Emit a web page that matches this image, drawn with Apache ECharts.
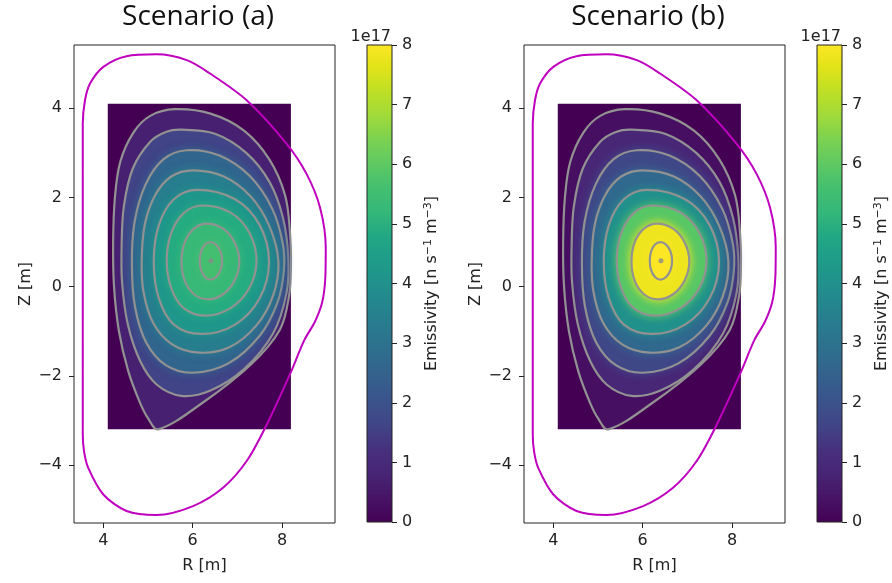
<!DOCTYPE html>
<html><head><meta charset="utf-8">
<script src="https://cdn.jsdelivr.net/npm/echarts@6/dist/echarts.min.js"></script>
<style>html,body{margin:0;padding:0;background:#fff}#c{width:892px;height:583px}</style>
</head><body><div id="c"></div>
<script>
// ---------- data ----------
const titles = ['Scenario (a)', 'Scenario (b)'];
const rTicks = [4, 6, 8];
const zTicks = [-4, -2, 0, 2, 4];
const cbTicks = [0, 1, 2, 3, 4, 5, 6, 7, 8];
const cbRange = [0, 8];
const gridR = [4.1, 8.2];
const gridZ = [-3.2, 4.1];
const magAxis = [6.41, 0.58];

const wall = [[3.54,0.0],[3.54,3.66],[3.59,4.18],[3.70,4.55],[4.0,4.93],[4.52,5.17],[5.19,5.21],[5.87,5.08],[6.39,4.78],[7.21,4.18],[8.10,3.21],[8.55,2.53],[8.85,1.78],[8.98,0.88],[8.97,0.2],[8.9,-0.35],[8.74,-0.78],[8.5,-1.2],[8.18,-1.96],[7.66,-3.09],[7.21,-3.91],[6.68,-4.51],[6.01,-4.92],[5.19,-5.12],[4.52,-5.03],[4.0,-4.66],[3.66,-4.06],[3.57,-3.7],[3.54,-3.31],[3.54,0.0]];

const psi8 = [[5.6,3.98],[6.4,3.88],[7.15,3.5],[7.72,2.85],[8.07,2.05],[8.18,1.2],[8.2,0.45],[8.16,-0.2],[7.95,-0.97],[7.3,-1.75],[6.2,-2.62],[5.23,-3.2],[5.0,-2.95],[4.82,-2.6],[4.56,-1.9],[4.35,-1.0],[4.24,0.0],[4.22,1.0],[4.26,2.0],[4.38,2.8],[4.67,3.45],[5.05,3.83]];
const psi7 = [[5.75,3.52],[6.5,3.43],[7.2,3.0],[7.72,2.35],[8.02,1.55],[8.14,0.65],[8.1,-0.15],[7.8,-1.05],[7.15,-1.85],[6.4,-2.33],[5.75,-2.45],[5.2,-2.2],[4.83,-1.68],[4.55,-0.85],[4.42,0.1],[4.41,0.9],[4.46,1.8],[4.66,2.65],[5.05,3.25],[5.4,3.47]];
const psi6 = [[5.87,3.06],[6.6,2.94],[7.28,2.48],[7.78,1.75],[8.02,0.95],[8.04,0.35],[7.9,-0.35],[7.5,-1.1],[6.8,-1.72],[6.0,-1.93],[5.4,-1.76],[4.96,-1.25],[4.71,-0.45],[4.64,0.5],[4.7,1.45],[4.95,2.3],[5.35,2.86]];
const psi5 = [[6.0,2.61],[6.7,2.47],[7.3,2.02],[7.72,1.35],[7.92,0.56],[7.8,-0.2],[7.42,-0.88],[6.82,-1.36],[6.15,-1.48],[5.55,-1.3],[5.12,-0.82],[4.9,-0.12],[4.86,0.6],[4.93,1.4],[5.16,2.05],[5.52,2.47]];
const psi4 = [[6.1,2.17],[6.95,1.96],[7.5,1.38],[7.71,0.56],[7.5,-0.26],[6.95,-0.85],[6.2,-1.06],[5.58,-0.85],[5.24,-0.25],[5.13,0.56],[5.24,1.37],[5.58,1.96]];
const psi3 = [[6.22,1.82],[6.85,1.66],[7.27,1.21],[7.43,0.585],[7.27,-0.03],[6.85,-0.48],[6.28,-0.65],[5.8,-0.48],[5.52,-0.03],[5.42,0.585],[5.52,1.2],[5.8,1.65]];
const psi2 = [[6.32,1.415],[6.68,1.30],[6.94,0.99],[7.045,0.565],[6.94,0.14],[6.68,-0.17],[6.35,-0.285],[6.03,-0.17],[5.82,0.14],[5.75,0.565],[5.82,0.99],[6.03,1.30]];
const psi1 = [[6.40,1.0],[6.525,0.944],[6.623,0.79],[6.66,0.58],[6.623,0.37],[6.525,0.216],[6.40,0.16],[6.276,0.216],[6.19,0.37],[6.16,0.58],[6.19,0.79],[6.276,0.944]];
const contours = [psi8, psi7, psi6, psi5, psi4, psi3, psi2, psi1]; // outer -> inner

// emissivity (1e17 n s^-1 m^-3) inside each contour band, outer -> inner
const emissA = [0.7, 1.6, 2.6, 3.4, 4.2, 4.9, 5.3, 5.6];
const emissB = [0.3, 0.9, 1.7, 2.7, 4.0, 5.9, 7.8, 8.0];
const outsideValue = 0;

const viridis = ['#440154','#471365','#482475','#472f7d','#414487','#3b528b','#355f8d','#2f6c8e','#2a788e','#25848e','#21918c','#1e9c89','#22a884','#35b779','#44bf70','#5ec962','#7ad151','#9fda3a','#bddf26','#dfe318','#fde725'];

// ---------- chart ----------
const chart = echarts.init(document.getElementById('c'), null, {renderer: 'canvas'});
const FONT = 'DejaVu Sans';
const INK = '#222';
const FS = 16;
const minus = v => String(v).replace('-', '\u2212');

const grids = [], xAxes = [], yAxes = [], series = [], titleList = [], graphics = [];
const panels = [{off: 0, emiss: emissA}, {off: 450, emiss: emissB}];

panels.forEach((p, i) => {
  const gMain = i * 2, gCb = i * 2 + 1;
  grids.push({left: 74 + p.off, top: 45, width: 261, height: 478, show: true, borderColor: INK, borderWidth: 1, backgroundColor: 'transparent', containLabel: false});
  grids.push({left: 367 + p.off, top: 45, width: 25, height: 477, show: false, containLabel: false});

  xAxes.push({gridIndex: gMain, type: 'value', min: 3.344, max: 9.187, position: 'bottom',
    axisLine: {show: false, onZero: false}, splitLine: {show: false},
    axisTick: {show: true, length: 5, lineStyle: {color: INK}, customValues: rTicks},
    axisLabel: {customValues: rTicks, formatter: minus, fontSize: FS, fontFamily: FONT, color: INK, margin: 10},
    name: 'R [m]', nameLocation: 'middle', nameGap: 35,
    nameTextStyle: {fontSize: FS, fontFamily: FONT, color: INK}});
  yAxes.push({gridIndex: gMain, type: 'value', min: -5.30, max: 5.42, position: 'left',
    axisLine: {show: false, onZero: false}, splitLine: {show: false},
    axisTick: {show: true, length: 5, lineStyle: {color: INK}, customValues: zTicks},
    axisLabel: {customValues: zTicks, formatter: minus, fontSize: FS, fontFamily: FONT, color: INK, margin: 12},
    name: 'Z [m]', nameLocation: 'middle', nameGap: 40, nameRotate: 90,
    nameTextStyle: {fontSize: FS, fontFamily: FONT, color: INK}});

  xAxes.push({gridIndex: gCb, type: 'value', min: 0, max: 1, show: false, axisLine: {onZero: false}});
  yAxes.push({gridIndex: gCb, type: 'value', position: 'right', min: cbRange[0], max: cbRange[1], interval: 1,
    axisLine: {show: false, onZero: false}, splitLine: {show: false},
    axisTick: {show: true, length: 5, lineStyle: {color: INK}},
    axisLabel: {fontSize: FS, fontFamily: FONT, color: INK, margin: 10},
    name: 'Emissivity [n s{sup|\u22121} m{sup|\u22123}]', nameLocation: 'middle', nameGap: 31, nameRotate: 90,
    nameTextStyle: {fontSize: FS, fontFamily: FONT, color: INK,
      rich: {sup: {fontSize: 11, fontFamily: FONT, color: INK, verticalAlign: 'top', padding: [0, 0, 6, 0]}}}});

  // emissivity grid background (value 0)
  series.push({type: 'custom', xAxisIndex: gMain, yAxisIndex: gMain, z: 1,
    data: [[gridR[0], gridZ[0], outsideValue, gridR[1], gridZ[1]]],
    renderItem: (params, api) => {
      const a = api.coord([api.value(0), api.value(1)]);
      const b = api.coord([api.value(3), api.value(4)]);
      return {type: 'rect', shape: {x: Math.min(a[0], b[0]), y: Math.min(a[1], b[1]), width: Math.abs(b[0] - a[0]), height: Math.abs(b[1] - a[1])},
        style: {fill: api.visual('color')}};
    }});
  // flux-surface bands with contour lines (soft edge toward the outer band)
  series.push({type: 'custom', xAxisIndex: gMain, yAxisIndex: gMain, z: 2,
    data: p.emiss.map((v, k) => [k, 0, v]),
    renderItem: (params, api) => {
      const k = params.dataIndex;
      const pts = contours[k].map(q => api.coord(q));
      const col = api.visual('color');
      return {type: 'polygon', shape: {points: pts, smooth: 0.35},
        style: {fill: col, stroke: '#929292', lineWidth: 2.2,
          shadowBlur: k >= 2 ? 9 : 0, shadowColor: col}};
    }});
  // first wall
  series.push({type: 'line', xAxisIndex: gMain, yAxisIndex: gMain, z: 4, data: wall, smooth: 0.3,
    showSymbol: false, symbol: 'none', lineStyle: {color: '#bf00bf', width: 2}, silent: true});
  // magnetic axis
  series.push({type: 'scatter', xAxisIndex: gMain, yAxisIndex: gMain, z: 3, data: [magAxis],
    symbolSize: 5, itemStyle: {color: '#8a8a8a'}, silent: true});
  // colorbar
  series.push({type: 'custom', xAxisIndex: gCb, yAxisIndex: gCb, z: 2,
    data: [[0, cbRange[0], 1, cbRange[1]]],
    renderItem: (params, api) => {
      const a = api.coord([api.value(0), api.value(1)]);
      const b = api.coord([api.value(2), api.value(3)]);
      return {type: 'rect', shape: {x: a[0], y: b[1], width: b[0] - a[0], height: a[1] - b[1]},
        style: {fill: new echarts.graphic.LinearGradient(0, 1, 0, 0, viridis.map((c, j) => ({offset: j / (viridis.length - 1), color: c}))),
          stroke: INK, lineWidth: 1}};
    }});

  titleList.push({text: titles[i], left: 198 + p.off, top: 3, textAlign: 'center', padding: 0,
    textStyle: {fontSize: 28, fontWeight: 'normal', fontFamily: 'Open Sans', color: '#111'}});
  graphics.push({type: 'text', x: 391 + p.off, y: 37, style: {text: '1e17', align: 'right', verticalAlign: 'middle', fontSize: FS, fontFamily: FONT, fill: INK}});
});

chart.setOption({
  animation: false,
  title: titleList,
  grid: grids,
  xAxis: xAxes,
  yAxis: yAxes,
  visualMap: [{type: 'continuous', show: false, min: cbRange[0], max: cbRange[1], dimension: 2,
    seriesIndex: [0, 1, 5, 6], inRange: {color: viridis}}],
  graphic: graphics,
  series: series
});
</script>
</body></html>
